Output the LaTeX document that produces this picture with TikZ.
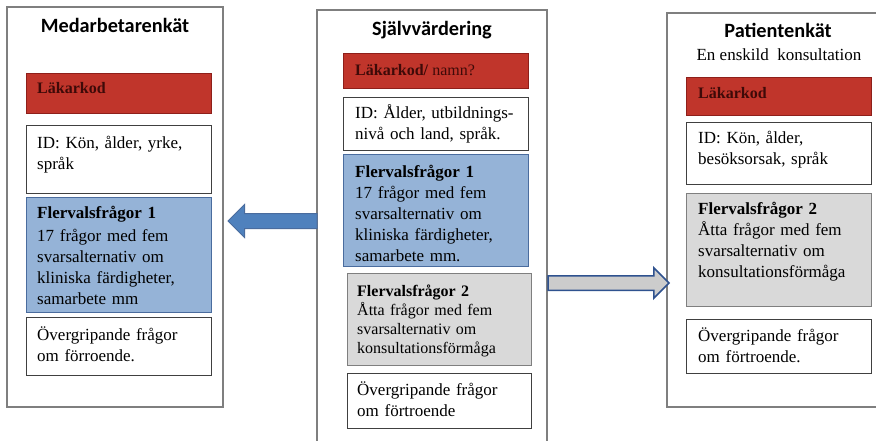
\documentclass[tikz,border=0pt]{standalone}
\usepackage{fontspec}
\setmainfont{Liberation Serif}
\newfontfamily\rubrik{Carlito}
\usetikzlibrary{calc,shapes.arrows}

\definecolor{ramgra}{HTML}{7F7F7F}
\definecolor{kodrod}{HTML}{C0352B}
\definecolor{kodkant}{HTML}{8E1F1A}
\definecolor{kodtext}{HTML}{3E0A08}
\definecolor{flerbla}{HTML}{95B3D7}
\definecolor{blakant}{HTML}{4A6C9E}
\definecolor{flergra}{HTML}{D9D9D9}
\definecolor{pilbla}{HTML}{4F81BD}
\definecolor{pilkant}{HTML}{2F528F}

\tikzset{
  panel/.style={draw=ramgra, line width=1.2pt, anchor=north west, inner sep=0pt, outer sep=0pt},
  ruta/.style={draw=#1, line width=1pt, anchor=north west, inner sep=0pt, outer sep=0pt, minimum width=185pt},
  ruta/.default=darkgray,
  rubriktext/.style={anchor=base, inner sep=0pt, font=\rubrik\bfseries\fontsize{20.3}{24}\selectfont},
  brodtext/.style={anchor=base west, inner sep=0pt, text width=180pt, align=left,
    font=\fontsize{17}{21}\selectfont},
  smaltext/.style={anchor=base west, inner sep=0pt, text width=180pt, align=left,
    font=\fontsize{16}{19}\selectfont},
  kodrad/.style={anchor=base west, inner sep=0pt, text=kodtext, font=\fontsize{16}{20}\selectfont},
  blockpil/.style={single arrow, minimum width=32pt, single arrow head extend=9pt,
    inner xsep=0pt, inner ysep=7pt, outer sep=0pt, line width=1pt}
}

\begin{document}
\begin{tikzpicture}[x=1pt, y=-1pt]
  \clip (0,0) rectangle (876,440);
  \fill[white] (0,0) rectangle (876,440);

  % Medarbetarenkät
  \node[panel, minimum width=216pt, minimum height=400pt] (medarb) at (7,7) {};
  \node[rubriktext] (medarbT) at (115,32) {Medarbetarenkät};
  \node[ruta=kodkant, fill=kodrod, minimum height=40pt] (mKod) at (26,73) {};
  \node[kodrad] (mKodT) at (37,93) {\bfseries Läkarkod};
  \node[ruta, minimum height=68pt] (mId) at (26,125) {};
  \node[brodtext] (mIdT) at (37,148) {ID: Kön, ålder, yrke,\\språk};
  \node[ruta=blakant, fill=flerbla, minimum height=115pt] (mFler) at (26,197) {};
  \node[brodtext] (mFlerT) at (37,218) {\textbf{Flervalsfrågor 1}\\[2pt]17 frågor med fem\\svarsalternativ om\\kliniska färdigheter,\\samarbete mm};
  \node[ruta, minimum height=58pt] (mOver) at (26,317) {};
  \node[brodtext] (mOverT) at (37,340) {Övergripande frågor\\om förroende.};

  % Självvärdering
  \node[panel, minimum width=230pt, minimum height=440pt] (sjalv) at (317,10) {};
  \node[rubriktext] (sjalvT) at (432,35) {Självvärdering};
  \node[ruta=kodkant, fill=kodrod, minimum height=35pt] (sKod) at (343,53) {};
  \node[kodrad] (sKodT) at (355,75) {\textbf{Läkarkod/} namn?};
  \node[ruta, minimum height=53pt] (sId) at (343,97) {};
  \node[brodtext] (sIdT) at (355,118) {ID: Ålder, utbildnings-\\nivå och land, språk.};
  \node[ruta=blakant, fill=flerbla, minimum height=112pt] (sFler) at (343,154) {};
  \node[brodtext] (sFlerT) at (355,177) {\textbf{Flervalsfrågor 1}\\17 frågor med fem\\svarsalternativ om\\kliniska färdigheter,\\samarbete mm.};
  \node[ruta=ramgra, fill=flergra, minimum width=184pt, minimum height=92pt] (sFler2) at (347,273) {};
  \node[smaltext] (sFler2T) at (357,296) {\textbf{Flervalsfrågor 2}\\Åtta frågor med fem\\svarsalternativ om\\konsultationsförmåga};
  \node[ruta, minimum width=184pt, minimum height=55pt] (sOver) at (347,373) {};
  \node[brodtext] (sOverT) at (357,395) {Övergripande frågor\\om förtroende};

  % Patientenkät
  \node[panel, minimum width=220pt, minimum height=394pt] (patient) at (667,13) {};
  \node[rubriktext] (patientT) at (778,37) {Patientenkät};
  \node[anchor=base, inner sep=0pt, font=\fontsize{17}{21}\selectfont] (patientU) at (779,60) {En enskild~ konsultation};
  \node[ruta=kodkant, fill=kodrod, minimum height=38pt] (pKod) at (686,77) {};
  \node[kodrad] (pKodT) at (698,98) {\bfseries Läkarkod};
  \node[ruta, minimum height=62pt] (pId) at (686,122) {};
  \node[brodtext] (pIdT) at (698,143) {ID: Kön, ålder,\\besöksorsak, språk};
  \node[ruta=ramgra, fill=flergra, minimum height=113pt] (pFler2) at (686,193) {};
  \node[brodtext] (pFler2T) at (698,214) {\textbf{Flervalsfrågor 2}\\Åtta frågor med fem\\svarsalternativ om\\konsultationsförmåga};
  \node[ruta, minimum height=54pt] (pOver) at (686,319) {};
  \node[brodtext] (pOverT) at (698,341) {Övergripande frågor\\om förtroende.};

  % pilar mellan enkäterna
  \path let \p1=(sjalv.west), \p2=(medarb.east) in
    node[blockpil, fill=pilbla, draw=blakant, shape border rotate=180,
      minimum height={\x1-\x2-5pt}, anchor=tail] (pilMedarb) at (\x1,221) {};
  \path let \p1=(patient.west), \p2=(sjalv.east) in
    node[blockpil, fill=flergra!85!gray, draw=pilkant, line width=1.5pt,
      minimum width=29pt, single arrow head extend=8pt, inner ysep=6.5pt,
      minimum height={\x1-\x2+1pt}, anchor=tail] (pilPatient) at (\x2+1,283) {};
\end{tikzpicture}
\end{document}
